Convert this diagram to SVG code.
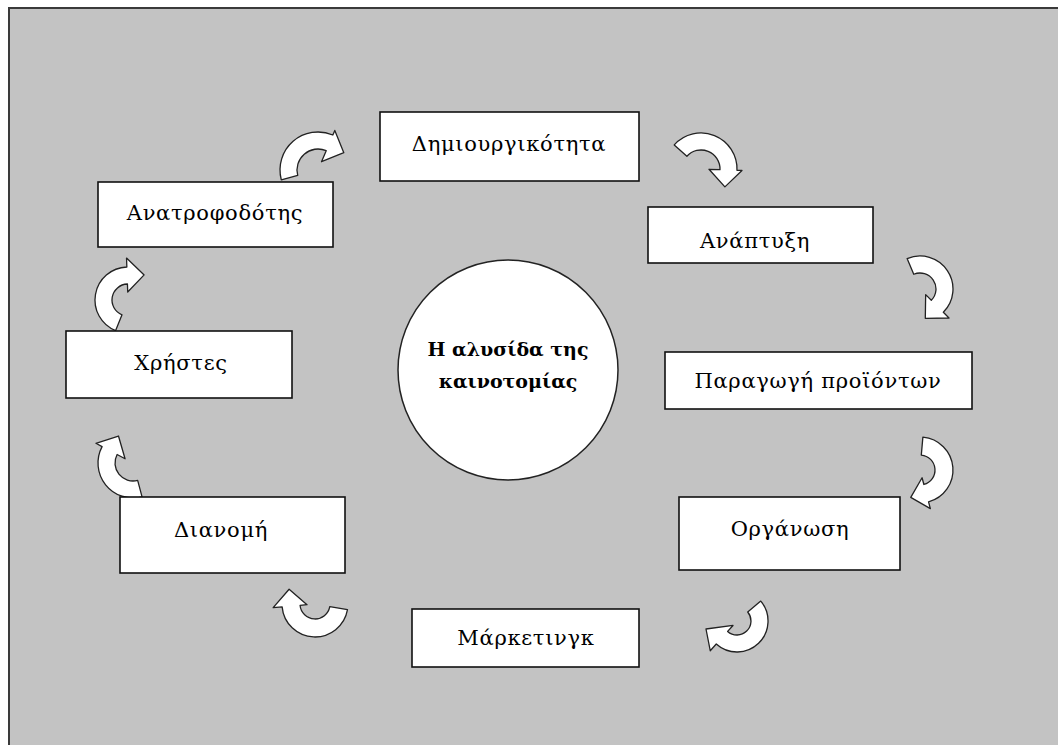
<svg xmlns="http://www.w3.org/2000/svg" width="1058" height="745" viewBox="0 0 1058 745">
<style>
.box{fill:#fff;stroke:#111;stroke-width:1.6}
.lbl{font-family:"DejaVu Serif","Liberation Serif",serif;font-size:21px;letter-spacing:0.7px;fill:#000;text-anchor:middle}
.ttl{font-family:"DejaVu Serif","Liberation Serif",serif;font-size:19px;font-weight:bold;fill:#000;text-anchor:middle}
.arr{fill:#fff;stroke:#222;stroke-width:1.3;stroke-linejoin:round}
</style>
<rect x="9" y="8" width="1060" height="760" fill="#c3c3c3" stroke="#3a3a3a" stroke-width="2"/>
<g id="connectors">
<path class="arr" d="M281.30,179.83 A38,38 0 0 1 332.85,135.02 L334.80,130.42 L343.81,152.71 L321.52,161.72 L326.20,150.67 A21,21 0 0 0 297.72,175.43 Z"/>
<path class="arr" d="M674.25,144.91 A36,36 0 0 1 736.98,170.26 L741.98,170.43 L724.90,186.85 L708.99,169.28 L719.99,169.66 A19,19 0 0 0 686.88,156.29 Z"/>
<path class="arr" d="M907.11,258.62 A33,33 0 0 1 943.33,312.33 L948.99,317.99 L925.30,318.34 L925.66,294.66 L931.31,300.31 A16,16 0 0 0 913.75,274.27 Z"/>
<path class="arr" d="M922.88,437.13 A33,33 0 0 1 928.54,501.87 L930.35,508.64 L910.76,497.32 L922.07,477.73 L923.88,484.49 A15,15 0 0 0 921.31,455.06 Z"/>
<path class="arr" d="M760.75,601.07 A31,31 0 0 1 716.26,644.04 L710.24,650.72 L706,629 L732.99,625.46 L727.63,631.40 A14,14 0 0 0 747.72,612.00 Z"/>
<path class="arr" d="M347.50,609.73 A33,33 0 0 1 282.13,606.88 L273.16,607.66 L289.11,589.20 L307.03,604.70 L300.06,605.31 A15,15 0 0 0 329.77,606.60 Z"/>
<path class="arr" d="M142.06,496.81 A35,35 0 0 1 102.10,446.57 L95.92,443.28 L118.47,436.02 L125.05,458.77 L117.11,454.55 A18,18 0 0 0 137.66,480.39 Z"/>
<path class="arr" d="M115.64,330.60 A33,33 0 0 1 126.85,267.02 L126.53,258.03 L144.13,274.92 L127.72,292.00 L127.44,284.01 A16,16 0 0 0 122.01,314.84 Z"/>
</g>
<g id="center">
<circle cx="508" cy="370" r="110" fill="#fff" stroke="#222" stroke-width="1.5"/>
<text class="ttl" x="508" y="356">Η αλυσίδα της</text>
<text class="ttl" x="508" y="388">καινοτομίας</text>
</g>
<g id="n1"><rect class="box" x="380" y="112" width="259" height="69"/><text class="lbl" x="509" y="151">Δημιουργικότητα</text></g>
<g id="n2"><rect class="box" x="648" y="207" width="225" height="56"/><text class="lbl" x="755" y="248">Ανάπτυξη</text></g>
<g id="n3"><rect class="box" x="665" y="352" width="307" height="57"/><text class="lbl" x="818" y="388">Παραγωγή προϊόντων</text></g>
<g id="n4"><rect class="box" x="679" y="497" width="221" height="73"/><text class="lbl" x="790" y="536">Οργάνωση</text></g>
<g id="n5"><rect class="box" x="412" y="609" width="227" height="58"/><text class="lbl" x="526" y="645">Μάρκετινγκ</text></g>
<g id="n6"><rect class="box" x="120" y="497" width="225" height="76"/><text class="lbl" x="221" y="537">Διανομή</text></g>
<g id="n7"><rect class="box" x="66" y="331" width="226" height="67"/><text class="lbl" x="181" y="370">Χρήστες</text></g>
<g id="n8"><rect class="box" x="98" y="182" width="235" height="65"/><text class="lbl" x="215" y="220">Ανατροφοδότης</text></g>
</svg>
